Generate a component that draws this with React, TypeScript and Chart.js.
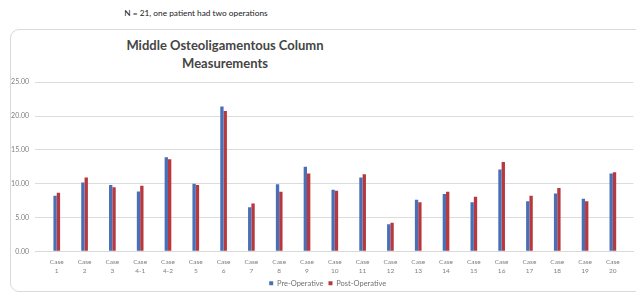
import React, { useEffect, useRef } from "react";
import { Chart, registerables } from "chart.js";

Chart.register(...registerables);

const caseLabels = ["1", "2", "3", "4-1", "4-2", "5", "6", "7", "8", "9", "10", "11", "12", "13", "14", "15", "16", "17", "18", "19", "20"];
const preOperative = [8.2, 10.15, 9.8, 8.85, 13.9, 10.0, 21.4, 6.5, 9.9, 12.5, 9.1, 10.9, 4.0, 7.6, 8.45, 7.25, 12.1, 7.4, 8.55, 7.75, 11.5];
const postOperative = [8.65, 10.9, 9.45, 9.7, 13.6, 9.8, 20.75, 7.05, 8.8, 11.5, 8.95, 11.4, 4.2, 7.25, 8.8, 8.05, 13.2, 8.2, 9.35, 7.4, 11.7];
const yTicks = [0, 5, 10, 15, 20, 25];
const seriesNames = ["Pre-Operative", "Post-Operative"];

const legendShift = {
  id: "legendShift",
  afterLayout(chart: any) {
    const l = chart.legend;
    if (!l) return;
    const dx = 7;
    const dy = -7;
    l.left += dx;
    l.right += dx;
    l.top += dy;
    l.bottom += dy;
  },
};

export default function App() {
  const canvasRef = useRef<HTMLCanvasElement | null>(null);

  useEffect(() => {
    if (!canvasRef.current) return;
    const toPoints = (arr: number[]) => arr.map((v, i) => ({ x: i, y: v }));
    const chart = new Chart(canvasRef.current, {
      type: "bar",
      data: {
        datasets: [
          {
            label: seriesNames[0],
            data: toPoints(preOperative),
            backgroundColor: "#4a6fb5",
            categoryPercentage: 0.24,
            barPercentage: 1,
          },
          {
            label: seriesNames[1],
            data: toPoints(postOperative),
            backgroundColor: "#b9383d",
            categoryPercentage: 0.24,
            barPercentage: 1,
          },
        ],
      },
      plugins: [legendShift],
      options: {
        animation: false,
        responsive: false,
        maintainAspectRatio: false,
        layout: { padding: { left: 8, right: 2.5, top: 6, bottom: 2 } },
        plugins: {
          title: { display: false },
          tooltip: { enabled: false },
          legend: {
            position: "bottom",
            labels: {
              boxWidth: 4,
              boxHeight: 4,
              padding: 5,
              color: "#707070",
              font: { family: "Lato", size: 7.5 },
            },
          },
        },
        scales: {
          x: {
            type: "linear",
            min: -0.27,
            max: 20.23,
            grid: { display: false, drawTicks: false },
            border: { display: true, color: "#d9d9d9" },
            afterBuildTicks: (scale: any) => {
              scale.ticks = caseLabels.map((_, i) => ({ value: i }));
            },
            ticks: {
              autoSkip: false,
              maxRotation: 0,
              padding: 7,
              color: "#7f7f7f",
              font: { family: "Lato", size: 6.5, lineHeight: 1.25 },
              callback: (v: any) => ["Case", caseLabels[Number(v)]],
            },
          },
          y: {
            min: 0,
            max: 25,
            afterBuildTicks: (scale: any) => {
              scale.ticks = yTicks.map((v) => ({ value: v }));
            },
            afterFit: (scale: any) => {
              scale.width = 27;
            },
            grid: { color: "#dcdcdc", drawTicks: false },
            border: { display: false },
            ticks: {
              padding: 6,
              color: "#7f7f7f",
              font: { family: "Lato", size: 7 },
              callback: (v: any) => Number(v).toFixed(2),
            },
          },
        },
      },
    });
    return () => chart.destroy();
  }, []);

  return (
    <div style={{ position: "fixed", left: 0, top: 0, width: 636, height: 297, overflow: "hidden", background: "#fff" }}>
      <div
        style={{
          position: "absolute",
          left: 0,
          top: 8,
          width: 392,
          textAlign: "center",
          fontFamily: "Lato",
          fontSize: 8.3,
          color: "#1a1a1a",
        }}
      >
        N = 21, one patient had two operations
      </div>
      <div
        style={{
          position: "absolute",
          left: 10,
          top: 29,
          width: 660,
          height: 263,
          border: "1px solid #d9d9d9",
          borderRadius: 9,
          boxSizing: "border-box",
        }}
      />
      <div
        style={{
          position: "absolute",
          left: 25,
          top: 36,
          width: 400,
          textAlign: "center",
          fontFamily: "Lato",
          fontWeight: 700,
          fontSize: 13,
          lineHeight: "18px",
          color: "#454545",
        }}
      >
        Middle Osteoligamentous Column
        <br />
        Measurements
      </div>
      <canvas
        ref={canvasRef}
        width={636}
        height={234}
        style={{ position: "absolute", left: 0, top: 72, width: 636, height: 234 }}
      />
    </div>
  );
}
